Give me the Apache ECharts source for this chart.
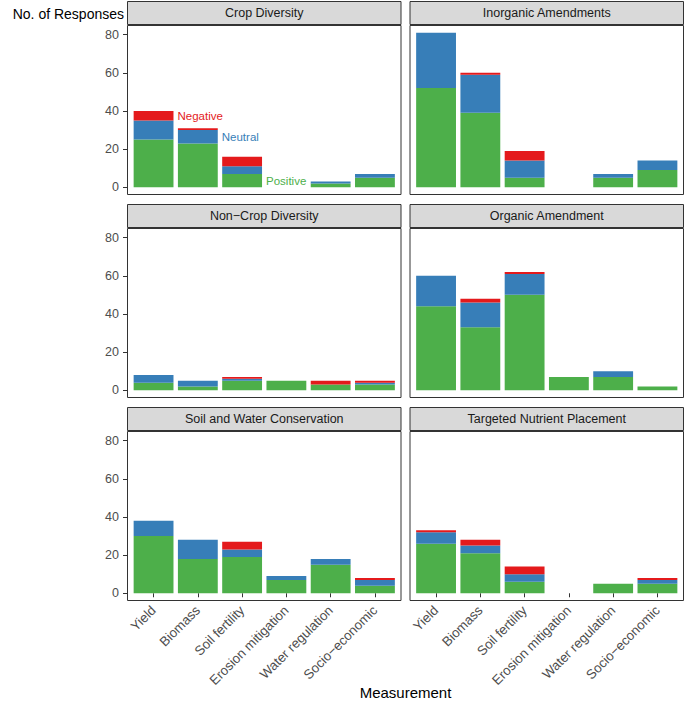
<!DOCTYPE html>
<html><head><meta charset="utf-8">
<script src="https://cdn.jsdelivr.net/npm/echarts@6/dist/echarts.min.js"></script>
<style>html,body{margin:0;padding:0;background:#fff}#c{width:685px;height:706px}</style>
</head><body><div id="c"></div>
<script>
// ---- data ----
const categories = ['Yield', 'Biomass', 'Soil fertility', 'Erosion mitigation', 'Water regulation', 'Socio\u2212economic'];
const panelTitles = ['Crop Diversity', 'Inorganic Amendments', 'Non\u2212Crop Diversity', 'Organic Amendment', 'Soil and Water Conservation', 'Targeted Nutrient Placement'];
const yTicks = [0, 20, 40, 60, 80];

const cropDiversityPositive = [25, 23, 7, 0, 2, 5];
const cropDiversityNeutral  = [10, 7, 4, 0, 1, 2];
const cropDiversityNegative = [5, 1, 5, 0, 0, 0];

const inorganicPositive = [52, 39, 5, 0, 5, 9];
const inorganicNeutral  = [29, 20, 9, 0, 2, 5];
const inorganicNegative = [0, 1, 5, 0, 0, 0];

const nonCropPositive = [4, 2, 5, 5, 3, 3];
const nonCropNeutral  = [4, 3, 1, 0, 0, 1];
const nonCropNegative = [0, 0, 1, 0, 2, 1];

const organicPositive = [44, 33, 50, 7, 7, 2];
const organicNeutral  = [16, 13, 11, 0, 3, 0];
const organicNegative = [0, 2, 1, 0, 0, 0];

const soilWaterPositive = [30, 18, 19, 7, 15, 4];
const soilWaterNeutral  = [8, 10, 4, 2, 3, 3];
const soilWaterNegative = [0, 0, 4, 0, 0, 1];

const nutrientPositive = [26, 21, 6, 0, 5, 5];
const nutrientNeutral  = [6, 4, 4, 0, 0, 2];
const nutrientNegative = [1, 3, 4, 0, 0, 1];

const seriesNames = ['Positive', 'Neutral', 'Negative'];
// in-panel labels (panel index, series, category index)
const annotations = [
  { panel: 0, series: 'Negative', cat: 0, text: 'Negative' },
  { panel: 0, series: 'Neutral', cat: 1, text: 'Neutral' },
  { panel: 0, series: 'Positive', cat: 2, text: 'Positive' }
];

// ---- build ----
const panelData = [
  [cropDiversityPositive, cropDiversityNeutral, cropDiversityNegative],
  [inorganicPositive, inorganicNeutral, inorganicNegative],
  [nonCropPositive, nonCropNeutral, nonCropNegative],
  [organicPositive, organicNeutral, organicNegative],
  [soilWaterPositive, soilWaterNeutral, soilWaterNegative],
  [nutrientPositive, nutrientNeutral, nutrientNegative]
];
const colors = { Positive: '#4DAF4A', Neutral: '#377EB8', Negative: '#E41A1C' };
const FONT = '"Liberation Sans", Arial, Helvetica, sans-serif';

let dataMax = 0;
panelData.forEach(p => categories.forEach((c, i) => { dataMax = Math.max(dataMax, p[0][i] + p[1][i] + p[2][i]); }));
const yMin = -0.05 * dataMax, yMax = dataMax * 1.05;

const colLeft = [127, 409.5];
const panelW = 274.5;
const rowTop = [25, 228, 431];
const panelH = 170;
const stripH = 24;
const unit = panelW / (categories.length + 0.2);
const gridOffset = 0.1 * unit;

const grids = [], xAxes = [], yAxes = [], series = [], graphics = [];
panelTitles.forEach((title, k) => {
  const col = k % 2, row = Math.floor(k / 2);
  const px = colLeft[col], py = rowTop[row];
  grids.push({ left: px + gridOffset, top: py, width: panelW - 2 * gridOffset, height: panelH, containLabel: false });
  const bottomRow = row === 2, leftCol = col === 0;
  xAxes.push({
    type: 'category', gridIndex: k, data: categories, boundaryGap: true,
    axisLine: { show: false },
    axisTick: { show: bottomRow, alignWithLabel: true, length: 4, lineStyle: { color: '#333', width: 1 }, interval: 0 },
    axisLabel: { show: bottomRow, interval: 0, rotate: 45, margin: 7, color: '#4D4D4D', fontSize: 13.3, fontFamily: FONT },
    splitLine: { show: false }
  });
  yAxes.push({
    type: 'value', gridIndex: k, min: yMin, max: yMax, offset: gridOffset,
    axisLine: { show: false },
    axisTick: { show: leftCol, length: 4, lineStyle: { color: '#333', width: 1 }, customValues: yTicks },
    axisLabel: { show: leftCol, margin: 8, color: '#4D4D4D', fontSize: 12.5, fontFamily: FONT, customValues: yTicks },
    splitLine: { show: false }
  });
  seriesNames.forEach((name, s) => {
    const data = panelData[k][s].map((v, i) => {
      const a = annotations.find(an => an.panel === k && an.series === name && an.cat === i);
      if (!a) return v;
      return { value: v, label: { show: true, position: 'right', distance: 4, formatter: a.text, color: colors[name], fontSize: 11.5, fontFamily: FONT } };
    });
    series.push({
      type: 'bar', name: name, xAxisIndex: k, yAxisIndex: k, stack: 'p' + k,
      barWidth: '90%', data: data, itemStyle: { color: colors[name] },
      label: { show: false }, emphasis: { disabled: true }, animation: false
    });
  });
  // panel border
  graphics.push({ type: 'rect', z: 100, shape: { x: px + 0.5, y: py + 0.5, width: panelW - 1, height: panelH - 1 },
    style: { fill: 'none', stroke: '#333', lineWidth: 1 } });
  // strip
  graphics.push({ type: 'rect', z: 100, shape: { x: px + 0.5, y: py - stripH + 0.5, width: panelW - 1, height: stripH - 1 },
    style: { fill: '#D9D9D9', stroke: '#333', lineWidth: 1 } });
  graphics.push({ type: 'text', z: 101, x: px + panelW / 2, y: py - stripH / 2,
    style: { text: title, fill: '#1A1A1A', font: '12.5px ' + FONT, align: 'center', verticalAlign: 'middle' } });
});
graphics.push({ type: 'text', z: 101, x: 124, y: 14,
  style: { text: 'No. of Responses', fill: '#000', font: '14px ' + FONT, align: 'right', verticalAlign: 'middle' } });
graphics.push({ type: 'text', z: 101, x: colLeft[0] + (colLeft[1] + panelW - colLeft[0]) / 2, y: 692,
  style: { text: 'Measurement', fill: '#000', font: '15px ' + FONT, align: 'center', verticalAlign: 'middle' } });

const chart = echarts.init(document.getElementById('c'), null, { renderer: 'svg' });
chart.setOption({
  animation: false,
  backgroundColor: '#fff',
  grid: grids, xAxis: xAxes, yAxis: yAxes, series: series, graphic: graphics
});
</script></body></html>
